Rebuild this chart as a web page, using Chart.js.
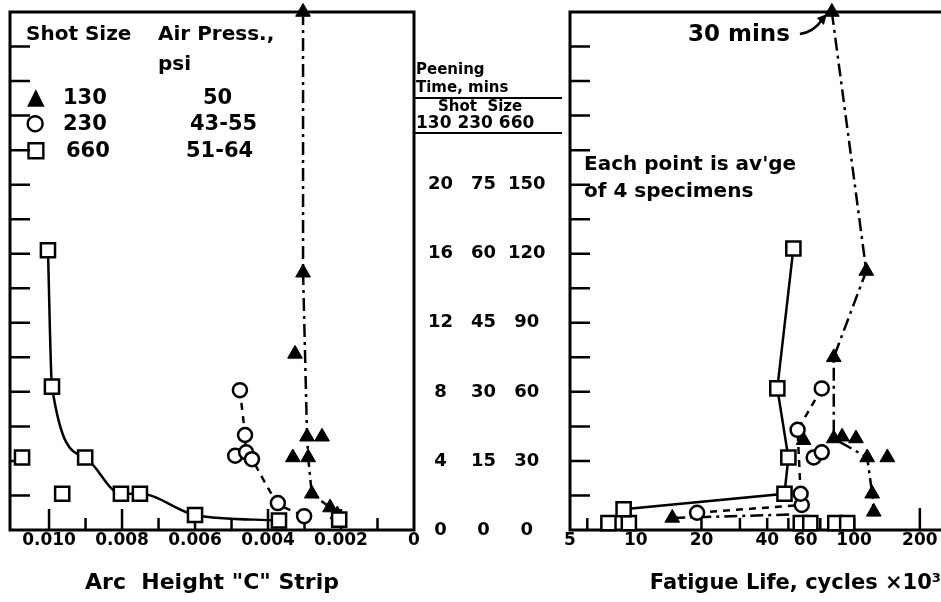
<!DOCTYPE html>
<html><head><meta charset="utf-8">
<script src="https://cdn.jsdelivr.net/npm/chart.js@4/dist/chart.umd.min.js"></script>
<style>
html,body{margin:0;padding:0;background:#fff;}
body{width:941px;height:602px;position:relative;overflow:hidden;font-family:"DejaVu Sans",sans-serif;font-weight:bold;color:#000;}
canvas{position:absolute;top:0;}
#cL{left:0;}
#cR{left:560px;}
.t{position:absolute;white-space:nowrap;line-height:1;}
.mk{-webkit-text-stroke:1.2px #000;}
.rule{position:absolute;height:0;border-top:2px solid #000;}
</style></head><body>
<canvas id="cL" width="564" height="602"></canvas>
<canvas id="cR" width="381" height="602"></canvas>

<div class="t" style="left:26px;top:23px;font-size:20px;">Shot Size</div>
<div class="t" style="left:158px;top:23px;font-size:20px;">Air Press.,</div>
<div class="t" style="left:158px;top:53px;font-size:20px;">psi</div>
<div class="t" style="left:27px;top:85px;font-size:23px;">▲</div>
<div class="t" style="left:63px;top:87px;font-size:21px;">130</div>
<div class="t" style="left:203px;top:87px;font-size:21px;">50</div>
<div class="t mk" style="left:26px;top:112px;font-size:21px;">○</div>
<div class="t" style="left:63px;top:113px;font-size:21px;">230</div>
<div class="t" style="left:190px;top:113px;font-size:21px;">43-55</div>
<div class="t mk" style="left:26px;top:139px;font-size:21px;">□</div>
<div class="t" style="left:66px;top:140px;font-size:21px;">660</div>
<div class="t" style="left:186px;top:140px;font-size:21px;">51-64</div>

<div class="t" style="left:416px;top:62px;font-size:15px;">Peening</div>
<div class="t" style="left:416px;top:80px;font-size:15px;">Time, mins</div>
<div class="rule" style="left:415px;top:97px;width:147px;"></div>
<div class="t" style="left:438px;top:99px;font-size:15px;">Shot&nbsp; Size</div>
<div class="t" style="left:416px;top:114px;font-size:17px;">130 230 660</div>
<div class="rule" style="left:415px;top:132px;width:147px;"></div>

<div class="t" style="left:688px;top:22px;font-size:23px;">30 mins</div>
<div class="t" style="left:584px;top:153px;font-size:20px;">Each point is av'ge</div>
<div class="t" style="left:584px;top:180px;font-size:20px;">of 4 specimens</div>

<script>
// ---------- data (y in peening minutes on the 130-shot scale) ----------
const arc660LineX = [0.01003, 0.00992, 0.00901, 0.00803, 0.00751, 0.00600, 0.00370];
const arc660LineY = [16.2, 8.3, 4.2, 2.1, 2.1, 0.87, 0.55];
const arc660PtsX  = [0.01074, 0.00964, 0.00205];
const arc660PtsY  = [4.2, 2.1, 0.6];
const arc230LineX = [0.00477, 0.00463, 0.00460, 0.00444, 0.00373, 0.00301];
const arc230LineY = [8.1, 5.5, 4.5, 4.1, 1.56, 0.8];
const arc230PtsX  = [0.00490];
const arc230PtsY  = [4.3];
const arc130LineX = [0.00304, 0.00304, 0.00293, 0.00290, 0.00280, 0.00230, 0.00210];
const arc130LineY = [30, 14.9, 5.4, 4.2, 2.1, 1.3, 0.9];
const arc130PtsX  = [0.00326, 0.00252, 0.00332];
const arc130PtsY  = [10.2, 5.4, 4.2];

const life660LineX = [8.8, 48.0, 50.0, 44.5, 52.7];
const life660LineY = [1.2, 2.1, 4.2, 8.2, 16.3];
const life660PtsX  = [7.5, 9.3, 57, 63, 82, 93];
const life660PtsY  = [0.4, 0.4, 0.4, 0.4, 0.4, 0.4];
const life230LineX = [19.1, 57.6, 56.9, 55.1, 71.1];
const life230LineY = [1.0, 1.45, 2.1, 5.8, 8.2];
const life230PtsX  = [65.3, 71.1];
const life230PtsY  = [4.2, 4.5];
const life130LineX = [79.1, 113.7, 80.7, 80.7, 114.8, 121, 123];
const life130LineY = [30, 15, 10, 5.3, 4.2, 2.1, 1.05];
const life130PtsX  = [58.7, 88.1, 102, 142, 14.7];
const life130PtsY  = [5.2, 5.4, 5.3, 4.2, 0.7];
const life130LowX  = [14.7, 52.8];
const life130LowY  = [0.7, 0.9];

// ---------- axes / tick labels ----------
const arcTicks = [0.010, 0.008, 0.006, 0.004, 0.002, 0];
const arcTickLabels = ['0.010', '0.008', '0.006', '0.004', '0.002', '0'];
const arcMinorTicks = [0.010, 0.009, 0.008, 0.007, 0.006, 0.005, 0.004, 0.003, 0.002, 0.001];
const lifeTicks = [5, 10, 20, 40, 60, 100, 200];
const lifeTickLabels = ['5', '10', '20', '40', '60', '100', '200'];
const lifeMinorTicks = [6, 7, 8, 9, 10, 20, 30, 40, 50, 60, 70, 80, 90, 100, 200];
const time130 = [0, 4, 8, 12, 16, 20];
const time230 = [0, 15, 30, 45, 60, 75];
const time660 = [0, 30, 60, 90, 120, 150];
const yTickMarks = [2, 4, 6, 8, 10, 12, 14, 16, 18, 20, 22, 24, 26, 28];
const Y_MAX = 30, ARC_MAX = 0.01107, LIFE_MIN = 5, LIFE_MAX = 250;

const FONT = '"DejaVu Sans", sans-serif';
const BLACK = '#000';
const xy = (xs, ys) => xs.map((x, i) => ({x, y: ys[i]}));

const sq = {pointStyle: 'rect', pointRadius: 10, pointBackgroundColor: '#fff', pointBorderColor: BLACK, pointBorderWidth: 2.5};
const ci = {pointStyle: 'circle', pointRadius: 7, pointBackgroundColor: '#fff', pointBorderColor: BLACK, pointBorderWidth: 2.5};
const tr = {pointStyle: 'triangle', pointRadius: 8.5, pointBackgroundColor: BLACK, pointBorderColor: BLACK, pointBorderWidth: 1};
const solid = {showLine: true, borderColor: BLACK, borderWidth: 2.5};
const dashed = {showLine: true, borderColor: BLACK, borderWidth: 2.5, borderDash: [7, 6]};
const dashdot = {showLine: true, borderColor: BLACK, borderWidth: 2.5, borderDash: [13, 5, 3, 5]};
const none = {showLine: false};

const noPad = s => { s.paddingTop = 0; s.paddingBottom = 0; s.paddingLeft = 0; s.paddingRight = 0; };

const framePlugin = {
  id: 'frame',
  beforeDatasetsDraw(chart, args, o) {
    const {ctx, chartArea: a, scales} = chart;
    ctx.save();
    ctx.strokeStyle = BLACK;
    ctx.lineWidth = 3;
    ctx.lineCap = 'square';
    ctx.beginPath();
    ctx.moveTo(a.left, a.bottom); ctx.lineTo(a.left, a.top); ctx.lineTo(a.right, a.top);
    ctx.moveTo(a.left, a.bottom); ctx.lineTo(a.right, a.bottom);
    if (o.right) { ctx.moveTo(a.right, a.top); ctx.lineTo(a.right, a.bottom); }
    ctx.stroke();
    ctx.lineWidth = 2.5;
    ctx.lineCap = 'butt';
    ctx.beginPath();
    o.yTicks.forEach(v => {
      const y = scales.y.getPixelForValue(v);
      ctx.moveTo(a.left, y); ctx.lineTo(a.left + 20, y);
    });
    o.xTicks.forEach((v, i) => {
      const x = scales.x.getPixelForValue(v);
      ctx.moveTo(x, a.bottom); ctx.lineTo(x, a.bottom - o.xLen[i]);
    });
    ctx.stroke();
    ctx.restore();
  }
};

const arrowPlugin = {
  id: 'arrow30',
  afterDatasetsDraw(chart, args, o) {
    if (!o.target) return;
    const {ctx, scales} = chart;
    const tx = scales.x.getPixelForValue(o.target[0]);
    const ty = scales.y.getPixelForValue(o.target[1]);
    ctx.save();
    ctx.strokeStyle = BLACK; ctx.fillStyle = BLACK; ctx.lineWidth = 2.5;
    ctx.beginPath();
    ctx.moveTo(tx - 32, ty + 22);
    ctx.quadraticCurveTo(tx - 18, ty + 20, tx - 10, ty + 8);
    ctx.stroke();
    ctx.beginPath();
    ctx.moveTo(tx - 5, ty + 2); ctx.lineTo(tx - 15, ty + 6); ctx.lineTo(tx - 8, ty + 13);
    ctx.closePath(); ctx.fill();
    ctx.restore();
  }
};

const tickFont = {family: FONT, size: 17, weight: 'bold'};
const titleFont = {family: FONT, size: 22, weight: 'bold'};

function rightTimeAxis(vals, max, width, pad, weight) {
  return {
    type: 'linear', position: 'right', min: 0, max: max, weight: weight,
    grid: {display: false, drawTicks: false}, border: {display: false},
    afterBuildTicks: s => { s.ticks = vals.map(v => ({value: v})); },
    afterFit: s => { s.width = width; noPad(s); },
    ticks: {color: BLACK, font: {family: FONT, size: 18, weight: 'bold'}, padding: pad, crossAlign: 'center',
            autoSkip: false, callback: (v, i) => String(vals[i])}
  };
}

new Chart(document.getElementById('cL'), {
  type: 'scatter',
  data: {datasets: [
    {label: '660 curve', data: xy(arc660LineX, arc660LineY), ...solid, cubicInterpolationMode: 'monotone', ...sq},
    {label: '660 other', data: xy(arc660PtsX, arc660PtsY), ...none, ...sq},
    {label: '230 curve', data: xy(arc230LineX, arc230LineY), ...dashed, tension: 0.2, ...ci},
    {label: '230 other', data: xy(arc230PtsX, arc230PtsY), ...none, ...ci},
    {label: '130 curve', data: xy(arc130LineX, arc130LineY), ...dashdot, tension: 0, ...tr},
    {label: '130 other', data: xy(arc130PtsX, arc130PtsY), ...none, ...tr}
  ]},
  options: {
    responsive: false, animation: false, clip: false,
    layout: {autoPadding: false, padding: {left: 10, top: 12, right: 0, bottom: 0}},
    plugins: {legend: {display: false}, tooltip: {enabled: false},
      frame: {right: true, yTicks: yTickMarks, xTicks: arcMinorTicks,
              xLen: arcMinorTicks.map((v, i) => i % 2 === 0 ? 21 : 12)}},
    scales: {
      x: {type: 'linear', reverse: true, min: 0, max: ARC_MAX,
          grid: {display: false, drawTicks: false}, border: {display: false},
          afterBuildTicks: s => { s.ticks = arcTicks.map(v => ({value: v})); },
          afterFit: s => { s.height = 72; noPad(s); },
          ticks: {color: BLACK, font: tickFont, padding: 0, autoSkip: false, maxRotation: 0,
                  callback: (v, i) => arcTickLabels[i]},
          title: {display: true, text: 'Arc  Height "C" Strip', color: BLACK, font: titleFont, padding: {top: 0, bottom: 6}}},
      y: {type: 'linear', display: false, min: 0, max: Y_MAX},
      y130: rightTimeAxis(time130, Y_MAX, 41, 14, 1),
      y230: rightTimeAxis(time230, Y_MAX * time230[5] / time130[5], 43, 16, 2),
      y660: rightTimeAxis(time660, Y_MAX * time660[5] / time130[5], 66, 10, 3)
    }
  },
  plugins: [framePlugin]
});

new Chart(document.getElementById('cR'), {
  type: 'scatter',
  data: {datasets: [
    {label: '660 curve', data: xy(life660LineX, life660LineY), ...solid, tension: 0, ...sq},
    {label: '660 other', data: xy(life660PtsX, life660PtsY), ...none, ...sq},
    {label: '230 curve', data: xy(life230LineX, life230LineY), ...dashed, tension: 0, ...ci},
    {label: '230 other', data: xy(life230PtsX, life230PtsY), ...none, ...ci},
    {label: '130 curve', data: xy(life130LineX, life130LineY), ...dashdot, tension: 0, ...tr},
    {label: '130 other', data: xy(life130PtsX, life130PtsY), ...none, ...tr},
    {label: '130 low', data: xy(life130LowX, life130LowY), ...dashdot, pointRadius: 0}
  ]},
  options: {
    responsive: false, animation: false, clip: false,
    layout: {autoPadding: false, padding: {left: 10, top: 12, right: 0, bottom: 0}},
    plugins: {legend: {display: false}, tooltip: {enabled: false},
      frame: {right: false, yTicks: yTickMarks, xTicks: lifeMinorTicks,
              xLen: lifeMinorTicks.map(v => v === 200 ? 22 : 12)},
      arrow30: {target: [life130LineX[0], life130LineY[0]]}},
    scales: {
      x: {type: 'logarithmic', min: LIFE_MIN, max: LIFE_MAX,
          grid: {display: false, drawTicks: false}, border: {display: false},
          afterBuildTicks: s => { s.ticks = lifeTicks.map(v => ({value: v})); },
          afterFit: s => { s.height = 72; noPad(s); },
          ticks: {color: BLACK, font: tickFont, padding: 0, autoSkip: false, maxRotation: 0,
                  callback: (v, i) => lifeTickLabels[i]},
          title: {display: true, text: 'Fatigue Life, cycles ×10³', align: 'end', color: BLACK, font: {family: FONT, size: 21, weight: 'bold'}, padding: {top: 0, bottom: 6}}},
      y: {type: 'linear', display: false, min: 0, max: Y_MAX}
    }
  },
  plugins: [framePlugin, arrowPlugin]
});
</script>
</body></html>
